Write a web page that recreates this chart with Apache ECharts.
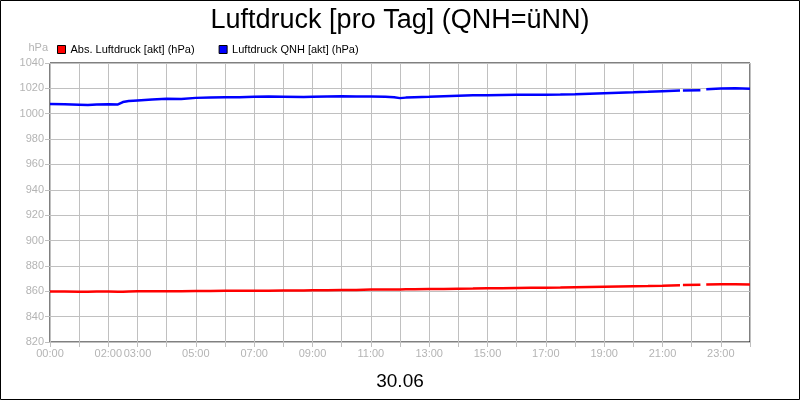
<!DOCTYPE html>
<html>
<head>
<meta charset="utf-8">
<script src="https://cdn.jsdelivr.net/npm/echarts@6/dist/echarts.min.js"></script>
<style>
html,body{margin:0;padding:0;background:#fff;}
#chart{width:800px;height:400px;}
</style>
</head>
<body>
<div id="chart"></div>
<script>
// Time of day in hours (null values mark gaps in the record)
const hours = [0, 0.5, 1, 1.3, 1.6, 2, 2.33, 2.5, 2.7, 3, 3.5, 4, 4.5, 5, 5.5, 6, 6.5, 7, 7.5, 8, 8.7, 9, 9.5, 10, 10.5, 11, 11.5, 11.8, 12, 12.2, 12.5, 13, 13.5, 14, 14.5, 15, 15.5, 16, 16.5, 17, 17.5, 18, 18.5, 19, 19.5, 20, 20.5, 21, 21.6, 21.65, 21.7, 22.3, 22.4, 22.5, 23, 23.5, 24];
const qnh = [1007.6, 1007.4, 1007.1, 1006.9, 1007.3, 1007.4, 1007.3, 1009.2, 1010.0, 1010.5, 1011.2, 1011.8, 1011.7, 1012.5, 1012.7, 1012.9, 1013.0, 1013.3, 1013.5, 1013.4, 1013.1, 1013.4, 1013.6, 1013.7, 1013.6, 1013.6, 1013.4, 1013.0, 1012.3, 1012.7, 1013.0, 1013.3, 1013.8, 1014.2, 1014.5, 1014.6, 1014.8, 1015.0, 1015.0, 1015.0, 1015.1, 1015.4, 1015.8, 1016.2, 1016.6, 1016.9, 1017.3, 1017.8, 1018.3, null, 1018.4, 1018.6, null, 1019.3, 1019.8, 1020.0, 1019.6];
const absP = [859.8, 859.8, 859.7, 859.7, 859.8, 859.8, 859.7, 859.6, 859.8, 860.0, 860.0, 860.0, 860.1, 860.2, 860.3, 860.4, 860.4, 860.5, 860.5, 860.6, 860.7, 860.8, 860.9, 861.0, 861.1, 861.3, 861.3, 861.4, 861.4, 861.5, 861.5, 861.7, 861.8, 862.0, 862.1, 862.3, 862.4, 862.6, 862.7, 862.8, 862.9, 863.1, 863.3, 863.5, 863.7, 863.9, 864.1, 864.4, 864.8, null, 864.9, 865.1, null, 865.3, 865.5, 865.5, 865.4];
const xLabelHours = [0, 2, 3, 5, 7, 9, 11, 13, 15, 17, 19, 21, 23];
const seriesNames = ['Abs. Luftdruck [akt] (hPa)', 'Luftdruck QNH [akt] (hPa)'];
const titleText = 'Luftdruck [pro Tag] (QNH=üNN)';
const dateText = '30.06';

const FONT = 'Arial, "Liberation Sans", sans-serif';
const GRAY = '#b4b4b4';

function pad(n){ return (n < 10 ? '0' : '') + n; }

const chart = echarts.init(document.getElementById('chart'), null, {renderer: 'canvas'});
chart.setOption({
  animation: false,
  backgroundColor: '#fff',
  textStyle: {fontFamily: FONT},
  title: [
    {text: titleText, left: 'center', top: 2,
     textStyle: {fontFamily: FONT, fontSize: 27, fontWeight: 'normal', color: '#000'}},
    {text: dateText, left: 'center', top: 367,
     textStyle: {fontFamily: FONT, fontSize: 19, fontWeight: 'normal', color: '#000'}}
  ],
  legend: {
    left: 52, top: 39,
    icon: 'rect', itemWidth: 8, itemHeight: 8, itemGap: 24,
    textStyle: {fontFamily: FONT, fontSize: 11, color: '#000'},
    data: [
      {name: seriesNames[0], itemStyle: {color: '#ff0000', borderColor: '#000', borderWidth: 1}},
      {name: seriesNames[1], itemStyle: {color: '#0000ff', borderColor: '#000', borderWidth: 1}}
    ]
  },
  grid: {left: 50, right: 50, top: 63, bottom: 58, show: true, borderColor: '#000', borderWidth: 1, backgroundColor: 'transparent', containLabel: false},
  xAxis: {
    type: 'value', min: 0, max: 24, interval: 1,
    axisLine: {show: false},
    axisTick: {show: true, length: 5, lineStyle: {color: '#c0c0c0'}},
    splitLine: {show: true, lineStyle: {color: '#c0c0c0', width: 1}},
    axisLabel: {
      color: GRAY, fontFamily: FONT, fontSize: 11, margin: 6,
      formatter: function(v){ return xLabelHours.indexOf(v) >= 0 ? pad(v) + ':00' : ''; }
    }
  },
  yAxis: {
    type: 'value', min: 820, max: 1040, interval: 20,
    name: 'hPa', nameLocation: 'end', nameGap: 10,
    nameTextStyle: {color: GRAY, fontFamily: FONT, fontSize: 11, align: 'right', padding: [0, 2, 0, 0]},
    axisLine: {show: false},
    axisTick: {show: true, length: 5, lineStyle: {color: '#c0c0c0'}},
    splitLine: {show: true, lineStyle: {color: '#c0c0c0', width: 1}},
    axisLabel: {color: GRAY, fontFamily: FONT, fontSize: 11, margin: 6,
      formatter: function(v){ return String(v); }}
  },
  graphic: [{
    type: 'rect', z: 100, silent: true,
    shape: {x: 0.5, y: 0.5, width: 799, height: 399},
    style: {fill: 'none', stroke: '#000', lineWidth: 1}
  }],
  series: [
    {name: seriesNames[0], type: 'line', showSymbol: false, connectNulls: false,
     lineStyle: {color: '#ff0000', width: 2.5}, itemStyle: {color: '#ff0000'},
     data: hours.map((h, i) => [h, absP[i]])},
    {name: seriesNames[1], type: 'line', showSymbol: false, connectNulls: false,
     lineStyle: {color: '#0000ff', width: 2.5}, itemStyle: {color: '#0000ff'},
     data: hours.map((h, i) => [h, qnh[i]])}
  ]
});
</script>
</body>
</html>
